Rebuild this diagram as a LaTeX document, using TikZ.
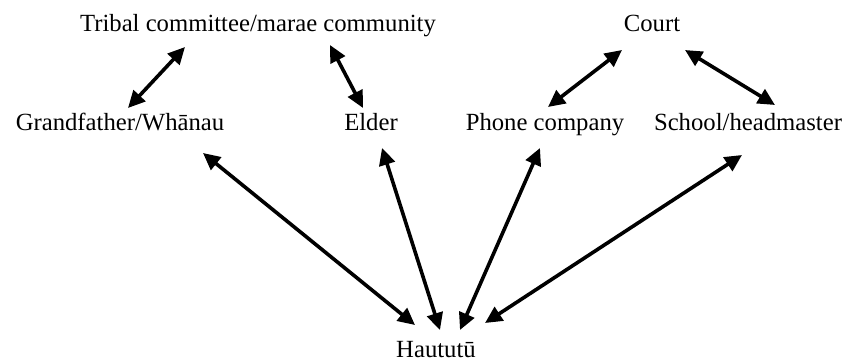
\documentclass[tikz,border=0pt]{standalone}
\usepackage{fontspec}
\setmainfont{Liberation Serif}
\usetikzlibrary{arrows.meta}
\begin{document}
\begin{tikzpicture}[x=1pt,y=-1pt,
  lbl/.style={anchor=base,inner sep=0pt,font=\fontsize{24.7}{28}\selectfont},
  rel/.style={line width=3.6pt,{Triangle[length=17pt,width=16pt]}-{Triangle[length=17pt,width=16pt]}}]
\useasboundingbox (0,0) rectangle (844,361);
\node[lbl] (T) at (258,32) {Tribal committee/marae community};
\node[lbl] (C) at (652,32) {Court};
\node[lbl] (G) at (120,130) {Grandfather/Whānau};
\node[lbl] (E) at (371,130) {Elder};
\node[lbl] (P) at (545,130) {Phone company};
\node[lbl] (S) at (748,130) {School/headmaster};
\node[lbl] (H) at (436,357) {Haututū};
\draw[rel] ([shift={(-73,15)}]T.base) -- ([shift={(8,-22)}]G.base);
\draw[rel] ([shift={(72,13)}]T.base) -- ([shift={(-8,-22)}]E.base);
\draw[rel] ([shift={(-30,18)}]C.base) -- ([shift={(3,-23)}]P.base);
\draw[rel] ([shift={(33,18)}]C.base) -- ([shift={(27,-25)}]S.base);
\draw[rel] ([shift={(83,23)}]G.base) -- ([shift={(-21,-32)}]H.base);
\draw[rel] ([shift={(11,18)}]E.base) -- ([shift={(4,-27)}]H.base);
\draw[rel] ([shift={(-5,18)}]P.base) -- ([shift={(24,-27)}]H.base);
\draw[rel] ([shift={(-6,25)}]S.base) -- ([shift={(49,-34)}]H.base);
\end{tikzpicture}
\end{document}
